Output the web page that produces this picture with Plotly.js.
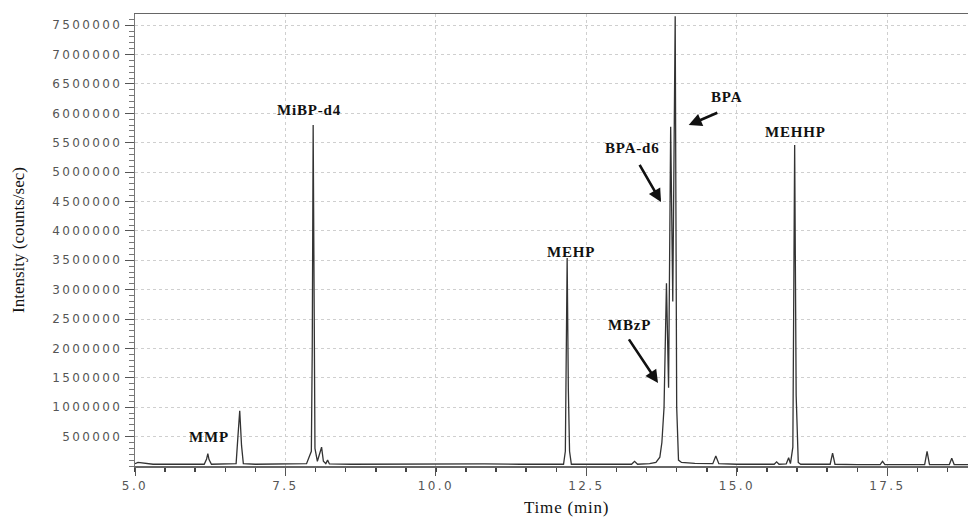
<!DOCTYPE html>
<html>
<head>
<meta charset="utf-8">
<script src="https://cdn.plot.ly/plotly-3.0.1.min.js"></script>
<style>
  html, body { margin: 0; padding: 0; background: #fff; }
  #chart { width: 968px; height: 519px; }
  .xtick text, .ytick text { letter-spacing: 2.4px; }
  .annotation-text { letter-spacing: 0.8px; }
</style>
</head>
<body>
<div id="chart"></div>
<script>
// Chromatogram: time (min) and intensity (counts/sec)
const timeMin = [
  5.00, 5.05, 5.30, 5.60, 5.90, 6.15, 6.19, 6.21, 6.23, 6.27,
  6.50, 6.68, 6.71, 6.74, 6.77, 6.80, 7.00, 7.40, 7.85, 7.93,
  7.945, 7.96, 7.975, 7.99, 8.03, 8.07, 8.10, 8.13, 8.17, 8.20,
  8.23, 8.60, 9.30, 10.00, 10.80, 11.40, 12.12, 12.15, 12.18, 12.20,
  12.22, 12.25, 12.60, 13.00, 13.25, 13.30, 13.35, 13.55, 13.655, 13.72,
  13.754, 13.79, 13.83, 13.865, 13.90, 13.935, 13.975, 14.00, 14.03, 14.08,
  14.30, 14.60, 14.65, 14.70, 15.00, 15.40, 15.62, 15.66, 15.70, 15.82,
  15.86, 15.89, 15.93, 15.96, 15.985, 16.02, 16.06, 16.30, 16.55, 16.59,
  16.63, 17.00, 17.38, 17.42, 17.46, 17.90, 18.12, 18.16, 18.20, 18.53,
  18.57, 18.61, 18.84
];
const intensity = [
  40000, 60000, 30000, 25000, 30000, 30000, 120000, 210000, 110000, 30000,
  35000, 40000, 500000, 940000, 350000, 40000, 30000, 35000, 40000, 250000,
  2000000, 5800000, 2500000, 300000, 80000, 200000, 320000, 80000, 40000, 100000,
  35000, 30000, 35000, 30000, 35000, 30000, 30000, 250000, 3540000, 1300000,
  250000, 30000, 30000, 35000, 30000, 80000, 30000, 40000, 60000, 150000,
  400000, 1000000, 3110000, 1330000, 5770000, 2800000, 7650000, 1000000, 100000, 60000,
  45000, 40000, 170000, 40000, 30000, 30000, 30000, 70000, 30000, 35000,
  140000, 40000, 320000, 5460000, 1200000, 60000, 30000, 30000, 30000, 220000,
  30000, 25000, 25000, 80000, 25000, 25000, 25000, 250000, 25000, 25000,
  130000, 25000, 25000
];

const yTickVals = [500000, 1000000, 1500000, 2000000, 2500000, 3000000, 3500000,
  4000000, 4500000, 5000000, 5500000, 6000000, 6500000, 7000000, 7500000];
const yTickText = ["500000", "1000000", "1500000", "2000000", "2500000", "3000000", "3500000",
  "4000000", "4500000", "5000000", "5500000", "6000000", "6500000", "7000000", "7500000"];
const xTickVals = [5.0, 7.5, 10.0, 12.5, 15.0, 17.5];
const xTickText = ["5.0", "7.5", "10.0", "12.5", "15.0", "17.5"];

// Peak labels
const labelText = ["MMP", "MiBP-d4", "MEHP", "MBzP", "BPA-d6", "BPA", "MEHHP"];
const labelX = [6.23, 7.89, 12.24, 13.21, 13.27, 14.83, 15.98];
const labelY = [490000, 6050000, 3640000, 2400000, 5410000, 6280000, 5680000];

// Arrows: head (x,y) and tail (ax,ay)
const arrowHeadX = [14.20, 13.74, 13.69];
const arrowHeadY = [5800000, 4490000, 1410000];
const arrowTailX = [14.70, 13.37, 13.19];
const arrowTailY = [6020000, 5150000, 2180000];

const xRange = [5.0, 18.84];
const yRange = [0, 7690000];

const annotations = [];
labelText.forEach((t, i) => {
  annotations.push({
    x: labelX[i], y: labelY[i], xref: 'x', yref: 'y',
    text: '<b>' + t + '</b>', showarrow: false,
    font: { family: 'Liberation Serif, Times New Roman, serif', size: 15, color: '#111' }
  });
});
arrowHeadX.forEach((hx, i) => {
  annotations.push({
    x: hx, y: arrowHeadY[i], ax: arrowTailX[i], ay: arrowTailY[i],
    xref: 'x', yref: 'y', axref: 'x', ayref: 'y',
    text: '', showarrow: true, arrowhead: 2, arrowsize: 1, arrowwidth: 2.6,
    arrowcolor: '#111', standoff: 0, startstandoff: 0
  });
});
const pw = 968 - 135, ph = 519 - 14 - 53;
annotations.push({
  x: (566 - 135) / pw, y: (519 - 53 - 507) / ph, xref: 'paper', yref: 'paper',
  yanchor: 'middle', text: 'Time (min)', showarrow: false,
  font: { family: 'Liberation Serif, Times New Roman, serif', size: 17, color: '#111' }
});

const trace = {
  x: timeMin, y: intensity, type: 'scatter', mode: 'lines',
  line: { color: '#333', width: 1.3 }, hoverinfo: 'skip'
};

const layout = {
  width: 968, height: 519,
  margin: { l: 135, r: 0, t: 14, b: 53 },
  paper_bgcolor: '#fff', plot_bgcolor: '#fff',
  showlegend: false,
  xaxis: {
    range: xRange, tickmode: 'array', tickvals: xTickVals, ticktext: xTickText,
    ticks: 'outside', ticklen: 8, tickcolor: '#555', tickwidth: 1,
    showline: true, linecolor: '#666', linewidth: 1.5, mirror: true,
    showgrid: true, gridcolor: '#cfcfcf', griddash: 'dot', gridwidth: 1,
    zeroline: false,
    minor: { tickmode: 'linear', tick0: 5, dtick: 0.5, ticks: 'outside', ticklen: 4, tickcolor: '#444', tickwidth: 1.5, showgrid: false },
    tickfont: { family: 'DejaVu Sans, sans-serif', size: 12, color: '#555' }
  },
  yaxis: {
    range: yRange, tickmode: 'array', tickvals: yTickVals, ticktext: yTickText,
    ticks: 'outside', ticklen: 9, tickcolor: '#555', tickwidth: 1,
    showline: true, linecolor: '#777', linewidth: 1.2,
    showgrid: true, gridcolor: '#cfcfcf', griddash: 'dot', gridwidth: 1,
    zeroline: false,
    minor: { tickmode: 'linear', tick0: 0, dtick: 100000, ticks: 'outside', ticklen: 5, tickcolor: '#777', tickwidth: 1, showgrid: false },
    tickfont: { family: 'DejaVu Sans, sans-serif', size: 12, color: '#555' },
    title: { text: 'Intensity (counts/sec)', standoff: 23,
      font: { family: 'Liberation Serif, Times New Roman, serif', size: 17, color: '#111' } }
  },
  annotations: annotations
};

Plotly.newPlot('chart', [trace], layout, { staticPlot: true, displayModeBar: false });
</script>
</body>
</html>
